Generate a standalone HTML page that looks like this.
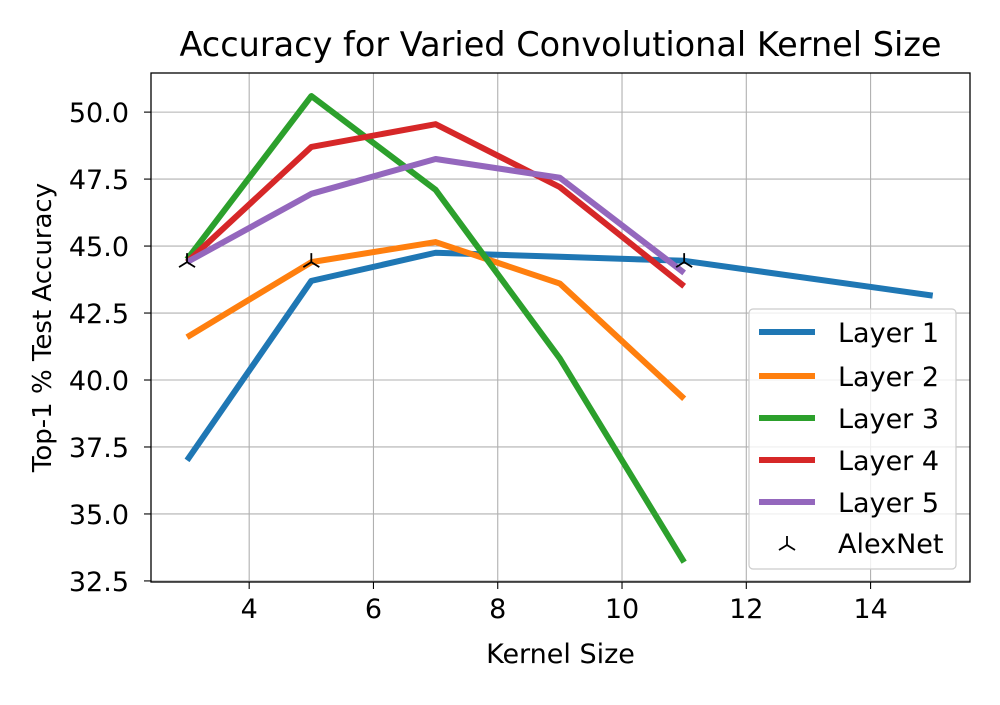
<!DOCTYPE html>
<html><head><meta charset="utf-8"><style>
body{margin:0;background:#fff;}
svg text{font-family:"DejaVu Sans","Liberation Sans",sans-serif;fill:#000;}
</style></head><body>
<svg id="chart" width="1000" height="700" xmlns="http://www.w3.org/2000/svg">
<rect width="1000" height="700" fill="#fff"/>
<g id="grid"></g>
<g id="series"></g>
<g id="axes"></g>
</svg>
<script>
const xTicks=[4,6,8,10,12,14];
const yTicks=[32.5,35.0,37.5,40.0,42.5,45.0,47.5,50.0];
const seriesNames=["Layer 1","Layer 2","Layer 3","Layer 4","Layer 5"];
const colors=["#1f77b4","#ff7f0e","#2ca02c","#d62728","#9467bd"];
const layer1X=[3,5,7,9,11,15], layer1Y=[37.0,43.7,44.75,44.6,44.45,43.15];
const layer2X=[3,5,7,9,11], layer2Y=[41.6,44.4,45.15,43.6,39.3];
const layer3X=[3,5,7,9,11], layer3Y=[44.5,50.6,47.1,40.8,33.2];
const layer4X=[3,5,7,9,11], layer4Y=[44.4,48.7,49.55,47.2,43.5];
const layer5X=[3,5,7,9,11], layer5Y=[44.4,46.95,48.25,47.55,44.0];
const alexX=[3,5,11], alexY=[44.4,44.4,44.4];

const L=151,R=970,T=73,B=582;
const x0=2.42,x1=15.6,y0=32.46,y1=51.46;
const sx=v=>L+(v-x0)/(x1-x0)*(R-L);
const sy=v=>B-(v-y0)/(y1-y0)*(B-T);
const NS="http://www.w3.org/2000/svg";
const FS=27;
function mk(tag,attrs,parent,text){const e=document.createElementNS(NS,tag);for(const k in attrs)e.setAttribute(k,attrs[k]);if(text!==undefined)e.textContent=text;parent.appendChild(e);return e;}
const grid=document.getElementById('grid'),ser=document.getElementById('series'),ax=document.getElementById('axes');
xTicks.forEach(t=>{const X=sx(t);
 const g=mk('line',{x1:X,x2:X,y1:T,y2:B,stroke:'#b0b0b0','stroke-width':1.1},grid);
 
 mk('line',{x1:X,x2:X,y1:B,y2:B+7,stroke:'#000','stroke-width':1.1},ax);
 const tx=mk('text',{x:X,y:B+36,'text-anchor':'middle','font-size':FS},ax,String(t));
 });
yTicks.forEach(t=>{const Y=sy(t);
 const g=mk('line',{x1:L,x2:R,y1:Y,y2:Y,stroke:'#b0b0b0','stroke-width':1.1},grid);
 
 mk('line',{x1:L-7,x2:L,y1:Y,y2:Y,stroke:'#000','stroke-width':1.1},ax);
 const tx=mk('text',{x:L-22,y:Y+10,'text-anchor':'end','font-size':FS},ax,t.toFixed(1));
 });
const xs=[layer1X,layer2X,layer3X,layer4X,layer5X],ys=[layer1Y,layer2Y,layer3Y,layer4Y,layer5Y];
xs.forEach((X,i)=>{const pts=X.map((v,j)=>sx(v)+','+sy(ys[i][j])).join(' ');
 const p=mk('polyline',{points:pts,fill:'none',stroke:colors[i],'stroke-width':6,'stroke-linejoin':'round'},ser);
 });
function tri(cx,cy,parent){const g=mk('g',{stroke:'#000','stroke-width':1.8},parent);
 mk('line',{x1:cx,y1:cy,x2:cx,y2:cy-9},g);mk('line',{x1:cx,y1:cy,x2:cx-8,y2:cy+5},g);mk('line',{x1:cx,y1:cy,x2:cx+8,y2:cy+5},g);return g;}
alexX.forEach((v,j)=>{const g=tri(sx(v),sy(alexY[j]),ser);
 });
const fr=mk('rect',{x:L,y:T,width:R-L,height:B-T,fill:'none',stroke:'#000','stroke-width':1.3},ax);

const title=mk('text',{x:(L+R)/2,y:56,'text-anchor':'middle','font-size':33.5},ax,'Accuracy for Varied Convolutional Kernel Size');

const xl=mk('text',{x:(L+R)/2,y:663,'text-anchor':'middle','font-size':FS},ax,'Kernel Size');

const yl=mk('text',{x:0,y:0,'text-anchor':'middle','font-size':26,transform:'translate(51,'+((T+B)/2)+') rotate(-90)'},ax,'Top-1 % Test Accuracy');

const lg=mk('g',{},ax);

mk('rect',{x:749,y:309,width:207,height:260,rx:4,fill:'#fff','fill-opacity':0.8,stroke:'#ccc','stroke-width':1.2},lg);
const ly=[332,376,418,460,502];
seriesNames.forEach((n,i)=>{const e=mk('g',{},lg);
 
 mk('line',{x1:759,x2:815,y1:ly[i],y2:ly[i],stroke:colors[i],'stroke-width':6},e);
 mk('text',{x:838,y:ly[i]+10,'font-size':FS},e,n);});
const ae=mk('g',{},lg);

tri(787,545,ae);
mk('text',{x:838,y:553,'font-size':FS},ae,'AlexNet');
</script>
</body></html>
